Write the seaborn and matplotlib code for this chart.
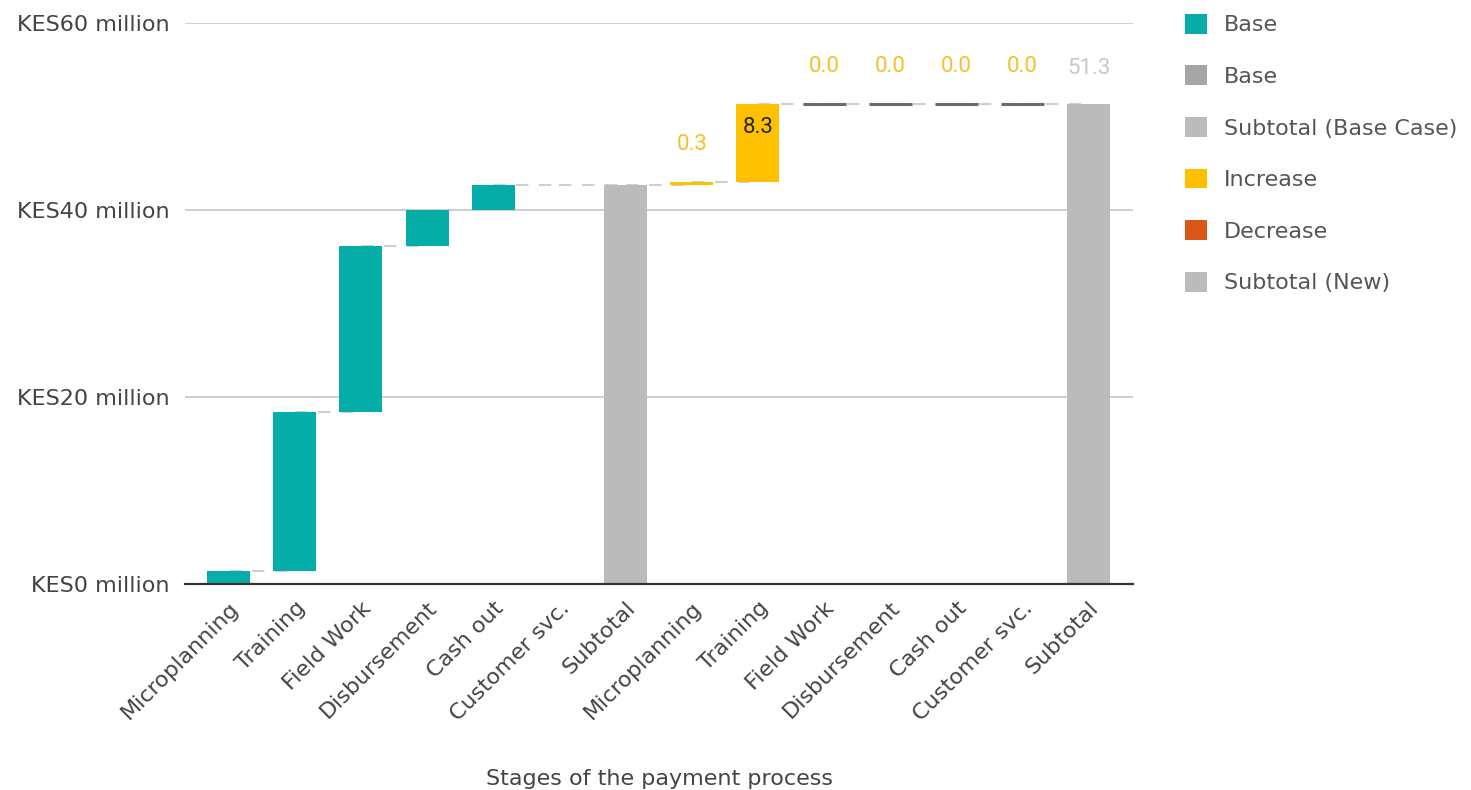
import matplotlib
matplotlib.use("Agg")
import matplotlib.pyplot as plt
from matplotlib.patches import Patch
import seaborn as sns
import numpy as np
import pandas as pd

# ---- data ----
stages = ["Microplanning", "Training", "Field Work", "Disbursement", "Cash out", "Customer svc."]
base_case = [1.4, 17.0, 17.7, 3.9, 2.7, 0.0]       # KES million, base case
new_changes = [0.3, 8.3, 0.0, 0.0, 0.0, 0.0]      # KES million, change vs base
tick_labels = stages + ["Subtotal"] + stages + ["Subtotal"]
y_ticks = [0, 20, 40, 60]
y_tick_labels = ["KES0 million", "KES20 million", "KES40 million", "KES60 million"]
legend_labels = ["Base", "Base", "Subtotal (Base Case)", "Increase", "Decrease", "Subtotal (New)"]

C_BASE = "#05ada8"
C_BASE2 = "#a6a6a6"
C_SUB = "#bbbbbb"
C_INC = "#ffc000"
C_DEC = "#d95618"
C_ZERO = "#6b6b6b"
legend_colors = [C_BASE, C_BASE2, C_SUB, C_INC, C_DEC, C_SUB]

# ---- build waterfall table ----
heights, bottoms, colors, kinds = [], [], [], []
run = 0.0
for v in base_case:
    heights.append(v); bottoms.append(run); colors.append(C_BASE); kinds.append("base")
    run += v
sub1 = run
heights.append(sub1); bottoms.append(0.0); colors.append(C_SUB); kinds.append("sub")
for v in new_changes:
    heights.append(v); bottoms.append(run)
    colors.append(C_INC if v >= 0 else C_DEC); kinds.append("new")
    run += v
sub2 = run
heights.append(sub2); bottoms.append(0.0); colors.append(C_SUB); kinds.append("sub2")
tops = [b + h for b, h in zip(bottoms, heights)]
pos = list(range(len(heights)))
df = pd.DataFrame({"pos": pos, "height": heights})

# ---- figure ----
sns.set_theme(style="white")
plt.rcParams["font.family"] = ["DejaVu Sans"]
fig = plt.figure(figsize=(14.71, 7.90), dpi=100)
ax = fig.add_axes([185/1471, 1-584/790, (1133-185)/1471, (584-23)/790])

sns.barplot(data=df, x="pos", y="height", hue="pos", palette=colors, legend=False,
            native_scale=True, dodge=False, width=0.65, saturation=1, ax=ax, zorder=3,
            linewidth=0, errorbar=None)

for i, p in enumerate(ax.patches):
    p.set_y(bottoms[i])
    p.set_height(heights[i])
    if kinds[i] == "new" and heights[i] == 0:
        p.set_edgecolor(C_ZERO)
        p.set_linewidth(2.2)
        p.set_zorder(4)

# connector dashes
for i in range(len(pos) - 1):
    ax.plot([pos[i], pos[i + 1]], [tops[i], tops[i]], color="#cfcfcf", lw=1.5,
            dashes=(6, 5), zorder=2)

# data labels for new scenario
LBL_FS = 16
for i in range(len(pos)):
    if kinds[i] == "new":
        if heights[i] > 5:
            ax.annotate(f"{heights[i]:.1f}", (pos[i], tops[i]), xytext=(0, -17),
                        textcoords="offset points", ha="center", va="center",
                        fontsize=LBL_FS, color="#222222", family="Roboto", zorder=6)
        else:
            ax.annotate(f"{heights[i]:.1f}", (pos[i], tops[i]), xytext=(0, 27),
                        textcoords="offset points", ha="center", va="center",
                        fontsize=LBL_FS, color="#f5c02c", family="Roboto", zorder=6)
    elif kinds[i] == "sub2":
        ax.annotate(f"{heights[i]:.1f}", (pos[i], tops[i]), xytext=(0, 26),
                    textcoords="offset points", ha="center", va="center",
                    fontsize=LBL_FS, color="#c8c8c8", family="Roboto", zorder=6)

ax.set_xlim(-0.66, len(pos) - 1 + 0.67)
ax.set_ylim(0, 60)
ax.set_yticks(y_ticks)
ax.set_yticklabels(y_tick_labels, fontsize=16, color="#444444")
ax.set_xticks(pos)
ax.set_xticklabels(tick_labels, rotation=45, ha="right", rotation_mode="anchor",
                   fontsize=16, color="#444444")
ax.tick_params(axis="y", length=5, color="#cccccc", pad=6, width=1)
ax.tick_params(axis="x", length=0, pad=10)
ax.yaxis.grid(True, color="#cccccc", lw=1.3, zorder=0)
ax.set_axisbelow(True)
for s in ["left", "right", "top"]:
    ax.spines[s].set_visible(False)
ax.spines["bottom"].set_color("#333333")
ax.spines["bottom"].set_linewidth(1.6)
ax.spines["bottom"].set_zorder(5)
ax.set_xlabel("Stages of the payment process", fontsize=16, color="#444444", labelpad=32)
ax.set_ylabel("")

handles = [Patch(facecolor=c, edgecolor="none") for c in legend_colors]
fig.legend(handles, legend_labels, loc="upper left", bbox_to_anchor=(1176/1471, 1 - 5/790),
           frameon=False, fontsize=16, labelcolor="#555555", handlelength=1.0,
           handleheight=1.0, labelspacing=1.35, handletextpad=0.75, borderaxespad=0)

fig.savefig("out.png", dpi=100)
